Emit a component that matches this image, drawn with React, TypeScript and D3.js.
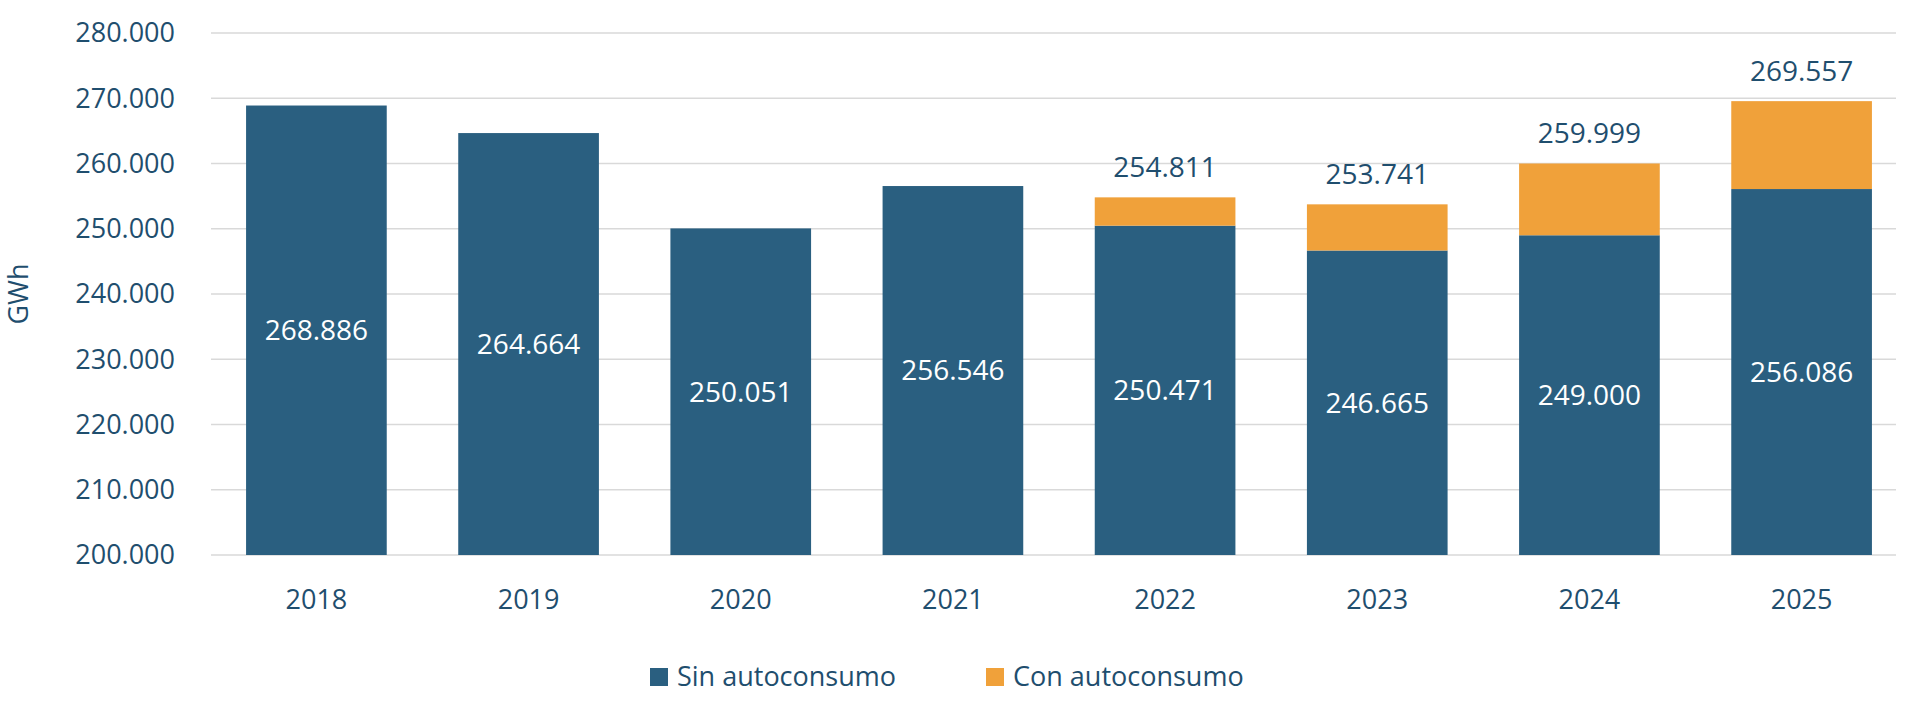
import React from "react";
import * as d3 from "d3";

const years = ["2018", "2019", "2020", "2021", "2022", "2023", "2024", "2025"];
const sinAuto = [268886, 264664, 250051, 256546, 250471, 246665, 249000, 256086];
const totals = [null, null, null, null, 254811, 253741, 259999, 269557];
const yTicks = [200000, 210000, 220000, 230000, 240000, 250000, 260000, 270000, 280000];

const W = 1920;
const H = 709;
const BLUE = "#2a5f80";
const ORANGE = "#f0a13a";
const TEXT = "#1f4e6e";
const FONT = "'Open Sans', 'Noto Sans', sans-serif";

const fmt = (v: number) => d3.format(",")(v).replace(/,/g, ".");

const App: React.FC = () => {
  const x = d3.scaleBand<string>().domain(years).range([210, 1908]).paddingInner(0.337).paddingOuter(0.17);
  const y = d3.scaleLinear().domain([200000, 280000]).range([555, 33]);
  const bw = x.bandwidth();

  return (
    <svg width={W} height={H} style={{ position: "absolute", left: 0, top: 0, background: "#fff" }} fontFamily={FONT}>
      {yTicks.map((t) => (
        <g key={t}>
          <line x1={211} x2={1896} y1={y(t)} y2={y(t)} stroke="#d9d9d9" strokeWidth={1.5} />
          <text x={175} y={y(t)} dy="0.35em" textAnchor="end" fontSize={27} fill={TEXT}>
            {fmt(t)}
          </text>
        </g>
      ))}
      <text transform={`translate(28,294) rotate(-90)`} textAnchor="middle" fontSize={27} fill={TEXT}>
        GWh
      </text>
      {years.map((yr, i) => {
        const x0 = x(yr)!;
        const s = sinAuto[i];
        const tot = totals[i];
        return (
          <g key={yr}>
            <rect x={x0} width={bw} y={y(s)} height={y(200000) - y(s)} fill={BLUE} />
            {tot !== null && (
              <rect x={x0} width={bw} y={y(tot)} height={y(s) - y(tot)} fill={ORANGE} />
            )}
            <text x={x0 + bw / 2} y={(y(s) + y(200000)) / 2} dy="0.35em" textAnchor="middle" fontSize={28} fill="#fff">
              {fmt(s)}
            </text>
            {tot !== null && (
              <text x={x0 + bw / 2} y={y(tot) - 30} dy="0.35em" textAnchor="middle" fontSize={28} fill={TEXT}>
                {fmt(tot)}
              </text>
            )}
            <text x={x0 + bw / 2} y={600} dy="0.35em" textAnchor="middle" fontSize={27} fill={TEXT}>
              {yr}
            </text>
          </g>
        );
      })}
      <g transform="translate(650,677)">
        <rect x={0} y={-9} width={18} height={18} fill={BLUE} />
        <text x={27} y={0} dy="0.35em" fontSize={27} fill={TEXT}>Sin autoconsumo</text>
        <rect x={336} y={-9} width={18} height={18} fill={ORANGE} />
        <text x={363} y={0} dy="0.35em" fontSize={27} fill={TEXT}>Con autoconsumo</text>
      </g>
    </svg>
  );
};

export default App;
